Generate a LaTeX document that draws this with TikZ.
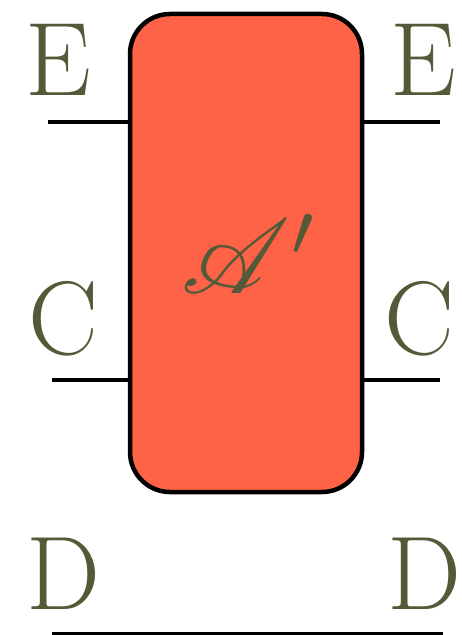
\documentclass[tikz,border=0pt]{standalone}
\usepackage{mathrsfs}
\definecolor{labelcol}{RGB}{84,90,56}
\definecolor{boxfill}{RGB}{255,99,71}
\begin{document}
\begin{tikzpicture}[x=1bp,y=-1bp,
  wire/.style={line width=4.5bp},
  lbl/.style={text=labelcol,font=\fontsize{105}{110}\selectfont,anchor=base,inner sep=0pt},
  blk/.style={draw=black,fill=boxfill,line width=4.5bp,rounded corners=40bp,minimum width=232bp,minimum height=478bp,inner sep=0pt}]
\useasboundingbox (0,0) rectangle (462,635);
\node[blk] (box) at (246,253) {};
\node[text=labelcol,inner sep=0pt,scale=10.6] (A) at (251,254) {$\mathscr{A}'$};
\node[lbl] (eL) at (58,96) {E};
\node[lbl] (eR) at (423,96) {E};
\node[lbl] (cL) at (63,354) {C};
\node[lbl] (cR) at (419,354) {C};
\node[lbl] (dL) at (63,609) {D};
\node[lbl] (dR) at (424,609) {D};
\coordinate (e1) at (48,122);
\coordinate (e2) at (130,122);
\coordinate (e3) at (362,122);
\coordinate (e4) at (440,122);
\coordinate (c1) at (52,380);
\coordinate (c2) at (130,380);
\coordinate (c3) at (362,380);
\coordinate (c4) at (440,380);
\coordinate (d1) at (52,634);
\coordinate (d2) at (443,634);
\draw[wire] (e1) -- (e2);
\draw[wire] (e3) -- (e4);
\draw[wire] (c1) -- (c2);
\draw[wire] (c3) -- (c4);
\draw[wire] (d1) -- (d2);
\end{tikzpicture}
\end{document}
